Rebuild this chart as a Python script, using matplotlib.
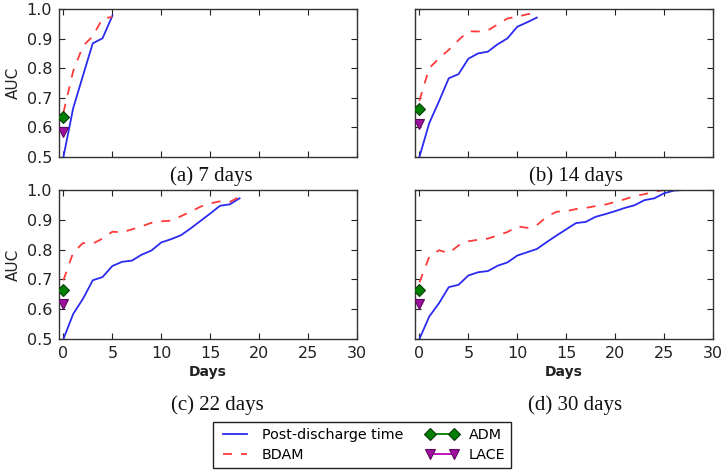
import numpy as np
import matplotlib
matplotlib.use("Agg")
import matplotlib.pyplot as plt
from matplotlib.lines import Line2D

# ---------------- data ----------------
blue_a = [0.50, 0.665, 0.775, 0.884, 0.901, 0.977]
red_a = [0.65, 0.79, 0.875, 0.908, 0.968, 0.973]
adm_a = 0.634
lace_a = 0.584

blue_b = [0.50, 0.614, 0.688, 0.766, 0.780, 0.832, 0.850, 0.856, 0.881, 0.901, 0.940, 0.955, 0.971]
red_b = [0.69, 0.80, 0.833, 0.862, 0.895, 0.925, 0.924, 0.928, 0.948, 0.968, 0.974, 0.982, 0.988]
adm_b = 0.661
lace_b = 0.610

blue_c = [0.50, 0.584, 0.635, 0.697, 0.708, 0.745, 0.759, 0.763, 0.783, 0.797,
          0.824, 0.835, 0.848, 0.871, 0.896, 0.921, 0.947, 0.952, 0.972]
red_c = [0.697, 0.79, 0.822, 0.82, 0.837, 0.86, 0.858, 0.868, 0.878, 0.89,
         0.895, 0.897, 0.912, 0.927, 0.944, 0.955, 0.962, 0.96, 0.977]
adm_c = 0.666
lace_c = 0.616

blue_d = [0.50, 0.575, 0.62, 0.674, 0.682, 0.713, 0.724, 0.728, 0.746, 0.757,
          0.78, 0.791, 0.802, 0.825, 0.847, 0.868, 0.889, 0.893, 0.910, 0.919,
          0.929, 0.94, 0.949, 0.966, 0.972, 0.989, 0.998, 1.0]
red_d = [0.69, 0.775, 0.798, 0.788, 0.814, 0.828, 0.833, 0.837, 0.848, 0.859,
         0.878, 0.873, 0.882, 0.91, 0.927, 0.929, 0.936, 0.94, 0.946, 0.951,
         0.96, 0.969, 0.98, 0.986, 0.994, 1.0, 1.0, 1.0]
adm_d = 0.663
lace_d = 0.618

panel_titles = ["(a) 7 days", "(b) 14 days", "(c) 22 days", "(d) 30 days"]
x_ticks = [0, 5, 10, 15, 20, 25, 30]
y_ticks = [0.5, 0.6, 0.7, 0.8, 0.9, 1.0]
series_labels = ["Post-discharge time", "BDAM", "ADM", "LACE"]

# ---------------- style ----------------
plt.rcParams['font.family'] = ['DejaVu Sans']
BLUE = '#2b2bf0'
RED = '#ff3b3b'
GREEN = '#008000'
MAG = '#bf00bf'

W, H = 723, 471
fig = plt.figure(figsize=(W / 100, H / 100), dpi=100)

def px_axes(l, t, r, b):
    return fig.add_axes([l / W, 1 - b / H, (r - l) / W, (b - t) / H])

boxes = [(59, 9, 357, 157), (415, 9, 713, 157), (59, 190, 357, 339), (415, 190, 713, 339)]
blues = [blue_a, blue_b, blue_c, blue_d]
reds = [red_a, red_b, red_c, red_d]
adms = [adm_a, adm_b, adm_c, adm_d]
laces = [lace_a, lace_b, lace_c, lace_d]
title_pos = [(211, 176), (576, 176), (217, 405), (575, 405)]

for i, box in enumerate(boxes):
    ax = px_axes(*box)
    b = blues[i]
    r = reds[i]
    ax.plot(np.arange(len(b)), b, color=BLUE, lw=1.3, zorder=2)
    ax.plot(np.arange(len(r)), r, color=RED, lw=1.3, dashes=(5, 5), zorder=2)
    ax.plot([0], [adms[i]], linestyle='none', marker='D', ms=6, mfc=GREEN,
            mec='#0b3b0b', mew=0.8, zorder=4)
    ax.plot([0], [laces[i]], linestyle='none', marker='v', ms=6.5, mfc='#a010a0',
            mec='#5a0a5a', mew=0.8, zorder=4)
    ax.set_xlim(-0.45, 30)
    ax.set_ylim(0.5, 1.0)
    ax.set_xticks(x_ticks)
    ax.set_yticks(y_ticks)
    ax.tick_params(direction='in', top=True, right=True, length=4.5, width=0.8,
                   labelsize=11.5, colors='#222222', pad=5)
    for s in ax.spines.values():
        s.set_linewidth(1.0)
        s.set_color('#333333')
    if i in (0, 2):
        ax.set_yticklabels([f"{v:.1f}" for v in y_ticks])
        ax.set_ylabel("AUC", fontsize=11, labelpad=4, color='#222222')
    else:
        ax.set_yticklabels([])
    if i in (2, 3):
        ax.set_xticklabels([str(v) for v in x_ticks])
        ax.set_xlabel("Days", fontsize=10, fontweight='bold', labelpad=3, color='#222222')
    else:
        ax.set_xticklabels([])
    tx, ty = title_pos[i]
    fig.text(tx / W, 1 - ty / H, panel_titles[i], ha='center', va='center',
             fontsize=15, family='Liberation Serif', color='#111111')

handles = [
    Line2D([], [], color=BLUE, lw=1.3),
    Line2D([], [], color=RED, lw=1.3, dashes=(5, 5)),
    Line2D([], [], color=GREEN, lw=1.3, marker='D', ms=6, mfc=GREEN, mec='#0b3b0b', mew=0.8),
    Line2D([], [], color=MAG, lw=1.3, marker='v', ms=6.5, mfc='#a010a0', mec='#5a0a5a', mew=0.8),
]
leg = fig.legend(handles, series_labels, ncol=2, loc='center',
                 bbox_to_anchor=(362 / W, 1 - 445 / H), fontsize=10.3,
                 numpoints=2, handlelength=2.3, columnspacing=1.6,
                 labelspacing=0.45, borderpad=0.4, handletextpad=0.7,
                 fancybox=False, framealpha=1, edgecolor='#222222')
leg.get_frame().set_linewidth(1.0)

fig.savefig("out.png", dpi=100)
